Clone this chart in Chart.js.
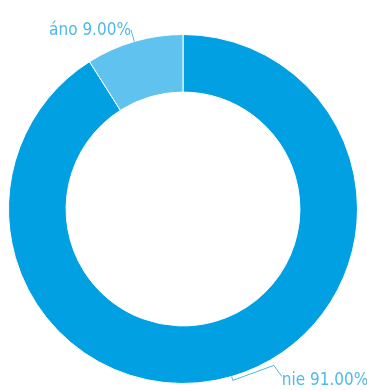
<!DOCTYPE html>
<html>
<head>
<meta charset="utf-8">
<script src="https://cdn.jsdelivr.net/npm/chart.js@4"></script>
<style>
    html, body { margin: 0; padding: 0; background: #fff; }
    canvas { display: block; }
</style>
</head>
<body>
<canvas id="myChart" width="367" height="390"></canvas>
<script>
const labels = ['nie', 'áno'];
const values = [91.00, 9.00];
const colors = ['#00a0e3', '#60c3ef'];

const labelColor = '#4fb9e9';
const labelFont = '17px "Liberation Sans Narrow", "DejaVu Sans Condensed", sans-serif';

// leader lines: from the middle of each arc edge out to its label
const calloutPlugin = {
    id: 'callouts',
    afterDatasetsDraw(chart) {
        const ctx = chart.ctx;
        const meta = chart.getDatasetMeta(0);
        ctx.save();
        ctx.strokeStyle = labelColor;
        ctx.fillStyle = labelColor;
        ctx.lineWidth = 1;
        ctx.font = labelFont;
        ctx.textBaseline = 'alphabetic';
        meta.data.forEach(function(arc, i) {
            const p = arc.getProps(['x', 'y', 'startAngle', 'endAngle', 'outerRadius'], true);
            const mid = (p.startAngle + p.endAngle) / 2;
            const dx = Math.cos(mid), dy = Math.sin(mid);
            const x0 = p.x + dx * p.outerRadius;
            const y0 = p.y + dy * p.outerRadius;
            const text = labels[i] + ' ' + values[i].toFixed(2) + '%';
            ctx.beginPath();
            if (dx > 0) {
                // lower right label
                const x1 = x0 + dx * 4, y1 = y0 + dy * 4;
                const x2 = x1 + 41, y2 = y1 - 15;
                const x3 = x2 + 8, y3 = y2 + 11;
                ctx.moveTo(x0, y0);
                ctx.lineTo(x1, y1);
                ctx.lineTo(x2, y2);
                ctx.lineTo(x3, y3);
                ctx.stroke();
                ctx.textAlign = 'left';
                ctx.fillText(text, x3, y3 + 9);
            } else {
                // upper left label
                const x1 = x0 + dx * 12, y1 = y0 + dy * 12;
                ctx.moveTo(x0, y0);
                ctx.lineTo(x1, y1);
                ctx.stroke();
                ctx.textAlign = 'right';
                ctx.fillText(text, x1, y1 + 5);
            }
        });
        ctx.restore();
    }
};

new Chart(document.getElementById('myChart'), {
    type: 'doughnut',
    data: {
        labels: labels,
        datasets: [{
            data: values,
            backgroundColor: colors,
            borderColor: '#ffffff',
            borderWidth: 1
        }]
    },
    options: {
        responsive: false,
        animation: false,
        cutout: '67%',
        layout: { padding: { top: 34, bottom: 6, left: 8, right: 9 } },
        plugins: {
            legend: { display: false },
            tooltip: { enabled: false }
        }
    },
    plugins: [calloutPlugin]
});
</script>
</body>
</html>
